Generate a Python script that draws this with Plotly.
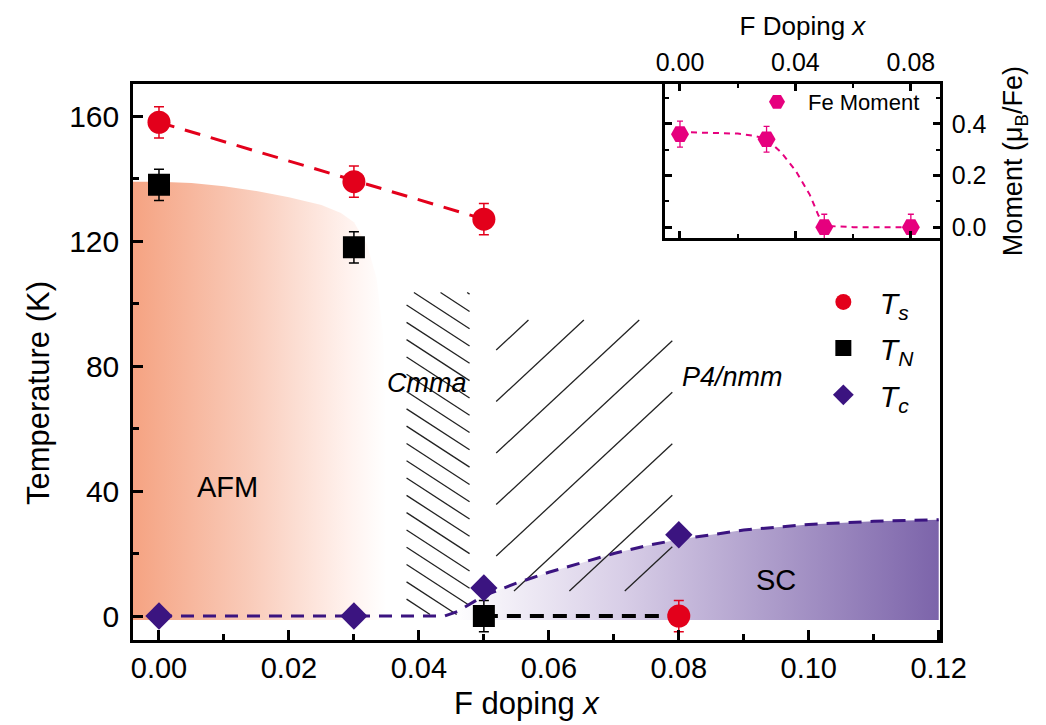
import numpy as np
import plotly.graph_objects as go

# ---------------- data ----------------
doping = [0.00, 0.03, 0.05, 0.08]
Ts = [158, 139, 127, 0]
Ts_err = [5, 5, 5, 5]
TN_doping = [0.00, 0.03, 0.05]
TN = [138, 118, 0]
TN_err = [5, 5, 5]
Tc = [0, 0, 9, 26]

# guide lines through the transitions
ts_guide_x = [0.00, 0.05]
ts_guide_T = [158, 127]
tn_zero_x = [0.05, 0.08]
tn_zero_T = [0, 0]
tc_guide_x = [0.000, 0.030, 0.044, 0.046, 0.048, 0.050, 0.055, 0.060, 0.065,
              0.070, 0.075, 0.080, 0.090, 0.100, 0.110, 0.120]
tc_guide_T = [0.0, 0.0, 0.0, 1.5, 4.0, 6.5, 10.5, 14.0, 17.0,
              20.0, 22.5, 24.5, 27.5, 29.3, 30.3, 30.8]

# AFM dome (upper boundary)
afm_x = [-0.0040, 0.000, 0.005, 0.010, 0.015, 0.020, 0.025, 0.028, 0.030,
         0.032, 0.0335, 0.0345, 0.0350, 0.0350, -0.0040]
afm_T = [139.0, 139.0, 138.6, 137.5, 136.0, 134.0, 131.5, 129.0, 126.0,
         119.0, 108.0, 90.0, 60.0, -1.3, -1.3]

# Fe ordered moment (inset)
mom_doping = [0.00, 0.03, 0.05, 0.08]
moment = [0.36, 0.34, 0.0, 0.0]
moment_err = [0.05, 0.05, 0.05, 0.05]
mom_guide_x = [0.000, 0.010, 0.020, 0.025, 0.030, 0.035, 0.040, 0.045,
               0.048, 0.050, 0.060, 0.070, 0.080]
mom_guide_y = [0.368, 0.366, 0.362, 0.355, 0.342, 0.290, 0.220, 0.125,
               0.045, 0.005, 0.0, 0.0, 0.0]

# axis tick labels
x_ticks = [0.00, 0.02, 0.04, 0.06, 0.08, 0.10, 0.12]
y_ticks = [0, 40, 80, 120, 160]
inset_x_ticks = [0.00, 0.04, 0.08]
inset_y_ticks = [0.0, 0.2, 0.4]

# ---------------- layout geometry ----------------
W, H = 1046, 725
ML, MR, MT, MB = 133, 106, 84, 85
XR = [-0.0040, 0.1202]
YR = [-7.68, 170.24]
PW, PH = W - ML - MR, H - MT - MB
SX = PW / (XR[1] - XR[0])   # px per unit doping
SY = PH / (YR[1] - YR[0])   # px per kelvin

RED = "#E3001B"
PURPLE = "#3B1480"
PINK = "#E6007E"
FONT = "Liberation Sans, Arial, sans-serif"


def px_to_paper_x(px):
    return (px - ML) / PW


def px_to_paper_y(py):
    return (H - MB - py) / PH


def hatch(x0, x1, t0, t1, anchor, slope_px, spacing_px):
    """Parallel line segments clipped to a rectangle (slope/spacing in screen px)."""
    X0, X1 = (x0 - XR[0]) * SX, (x1 - XR[0]) * SX
    Y0, Y1 = (t0 - YR[0]) * SY, (t1 - YR[0]) * SY
    ax, at = (anchor[0] - XR[0]) * SX, (anchor[1] - YR[0]) * SY
    c0 = at - slope_px * ax
    xs, ys = [], []
    for k in range(-80, 81):
        c = c0 + k * spacing_px
        if slope_px > 0:
            a, b = max(X0, (Y0 - c) / slope_px), min(X1, (Y1 - c) / slope_px)
        else:
            a, b = max(X0, (Y1 - c) / slope_px), min(X1, (Y0 - c) / slope_px)
        if b - a > 1:
            for X in (a, b):
                xs.append(XR[0] + X / SX)
                ys.append(YR[0] + (slope_px * X + c) / SY)
            xs.append(None)
            ys.append(None)
    return xs, ys


fig = go.Figure()

# AFM phase (orange fading to white)
fig.add_trace(go.Scatter(
    x=afm_x, y=afm_T, mode="lines", line=dict(width=0), fill="toself",
    fillgradient=dict(type="horizontal", colorscale=[
        [0.0, "rgb(245,163,130)"], [0.45, "rgb(249,202,184)"],
        [0.85, "rgb(255,242,238)"], [1.0, "rgb(255,255,255)"]]),
    showlegend=False, hoverinfo="skip"))

# SC dome (white to violet)
gx = np.array(tc_guide_x)
gT = np.array(tc_guide_T)
sel = gx >= 0.046
sc_x = [0.045] + list(gx[sel]) + [0.120, 0.045]
sc_T = [0.7] + list(gT[sel]) + [-1.3, -1.3]
fig.add_trace(go.Scatter(
    x=sc_x, y=sc_T, mode="lines", line=dict(width=0), fill="toself",
    fillgradient=dict(type="horizontal", colorscale=[
        [0.0, "rgba(255,255,255,1)"], [0.35, "rgb(216,206,231)"],
        [1.0, "rgb(124,100,170)"]]),
    showlegend=False, hoverinfo="skip"))

# hatched structural regions
hx, hy = hatch(0.0381, 0.0478, 0.5, 103.5, (0.0381, 99.5), -0.65, 17.3)
fig.add_trace(go.Scatter(x=hx, y=hy, mode="lines",
                         line=dict(color="#222222", width=1.3),
                         showlegend=False, hoverinfo="skip"))
hx, hy = hatch(0.0519, 0.0790, 8.0, 94.7, (0.0519, 85.1), 0.93, 51.5)
fig.add_trace(go.Scatter(x=hx, y=hy, mode="lines",
                         line=dict(color="#222222", width=1.3),
                         showlegend=False, hoverinfo="skip"))

# guide lines
fig.add_trace(go.Scatter(x=ts_guide_x, y=ts_guide_T, mode="lines",
                         line=dict(color=RED, width=3, dash="16px,11px"),
                         showlegend=False, hoverinfo="skip"))
fig.add_trace(go.Scatter(x=tn_zero_x, y=tn_zero_T, mode="lines",
                         line=dict(color="black", width=4, dash="14px,9px"),
                         showlegend=False, hoverinfo="skip"))
fig.add_trace(go.Scatter(x=tc_guide_x, y=tc_guide_T, mode="lines",
                         line=dict(color=PURPLE, width=3, dash="13px,9px"),
                         showlegend=False, hoverinfo="skip"))

# data points
fig.add_trace(go.Scatter(
    x=doping, y=Ts, mode="markers", name="<i>T</i><sub><i>s</i></sub>",
    marker=dict(symbol="circle", size=23, color=RED),
    error_y=dict(type="data", array=Ts_err, color=RED, thickness=1.5, width=5),
    legend="legend"))
fig.add_trace(go.Scatter(
    x=TN_doping, y=TN, mode="markers", name="<i>T</i><sub><i>N</i></sub>",
    marker=dict(symbol="square", size=22, color="black"),
    error_y=dict(type="data", array=TN_err, color="black", thickness=1.5, width=5),
    legend="legend2"))
fig.add_trace(go.Scatter(
    x=doping, y=Tc, mode="markers", name="<i>T</i><sub><i>c</i></sub>",
    marker=dict(symbol="diamond", size=21, color=PURPLE),
    legend="legend3"))

# inset: Fe moment
fig.add_trace(go.Scatter(x=mom_guide_x, y=mom_guide_y, mode="lines",
                         line=dict(color=PINK, width=2, dash="6px,5px"),
                         xaxis="x2", yaxis="y2", showlegend=False, hoverinfo="skip"))
fig.add_trace(go.Scatter(
    x=mom_doping, y=moment, mode="markers", name="Fe Moment",
    marker=dict(symbol="hexagon2", size=18, color=PINK),
    error_y=dict(type="data", array=moment_err, color=PINK, thickness=1.3, width=3),
    xaxis="x2", yaxis="y2", legend="legend4"))

# phase labels
labels = [
    ("AFM", 0.0106, 41.3, False, 29),
    ("Cmma", 0.0412, 74.6, True, 27),
    ("P4/nmm", 0.0882, 76.5, True, 27),
    ("SC", 0.0950, 11.5, False, 29),
]
for txt, lx, ly, ital, fs in labels:
    fig.add_annotation(x=lx, y=ly, xref="x", yref="y",
                       text=f"<i>{txt}</i>" if ital else txt,
                       showarrow=False, font=dict(size=fs, color="black", family=FONT))

# main axis titles
fig.add_annotation(x=px_to_paper_x(527), y=px_to_paper_y(703), xref="paper", yref="paper",
                   text="F doping <i>x</i>", showarrow=False,
                   xanchor="center", yanchor="middle",
                   font=dict(size=31, color="black", family=FONT))
fig.add_annotation(x=px_to_paper_x(38), y=px_to_paper_y(393), xref="paper", yref="paper",
                   text="Temperature (K)", textangle=-90, showarrow=False,
                   xanchor="center", yanchor="middle",
                   font=dict(size=31, color="black", family=FONT))

axis_common = dict(showline=True, linecolor="black", linewidth=2.5,
                   ticks="inside", tickcolor="black", tickwidth=2.5,
                   showgrid=False, zeroline=False, automargin=False)

legend_common = dict(bgcolor="rgba(0,0,0,0)", borderwidth=0,
                     xanchor="left", yanchor="middle", itemwidth=63,
                     font=dict(size=30, family=FONT, color="black"))

fig.update_layout(
    width=W, height=H,
    margin=dict(l=ML, r=MR, t=MT, b=MB, autoexpand=False),
    paper_bgcolor="white", plot_bgcolor="white",
    font=dict(family=FONT, color="black"),
    xaxis=dict(range=XR, domain=[0, 1], anchor="y", mirror=True,
               tickvals=x_ticks, ticktext=[f"{v:.2f}" for v in x_ticks],
               ticklen=10, ticklabelstandoff=0,
               minor=dict(dtick=0.01, tick0=0, ticks="inside", ticklen=6,
                          tickwidth=2.5, tickcolor="black"),
               tickfont=dict(size=29),
               **axis_common),
    yaxis=dict(range=YR, domain=[0, 1], anchor="x", mirror=True,
               tickvals=y_ticks, ticktext=[str(v) for v in y_ticks],
               ticklen=10, ticklabelstandoff=5,
               minor=dict(dtick=20, tick0=0, ticks="inside", ticklen=6,
                          tickwidth=2.5, tickcolor="black"),
               tickfont=dict(size=30),
               **axis_common),
    xaxis2=dict(range=[-0.0052, 0.0901], domain=[0.6592, 1.0], anchor="y2",
                side="top", mirror="allticks",
                tickvals=inset_x_ticks, ticktext=[f"{v:.2f}" for v in inset_x_ticks],
                ticklen=7, ticklabelstandoff=0,
                minor=dict(dtick=0.02, tick0=0, ticks="inside", ticklen=4,
                           tickwidth=2, tickcolor="black"),
                tickfont=dict(size=25),
                title=dict(text="F Doping <i>x</i>", font=dict(size=26), standoff=6),
                **axis_common),
    yaxis2=dict(range=[-0.042, 0.554], domain=[0.723, 1.0], anchor="x2",
                side="right", mirror="allticks",
                tickvals=inset_y_ticks, ticktext=[f"{v:.1f}" for v in inset_y_ticks],
                ticklen=7, ticklabelstandoff=4,
                minor=dict(dtick=0.1, tick0=0, ticks="inside", ticklen=4,
                           tickwidth=2, tickcolor="black"),
                tickfont=dict(size=25),
                title=dict(text="Moment (μ<sub>B</sub>/Fe)", font=dict(size=27), standoff=18),
                **axis_common),
    legend=dict(x=0.835, y=0.608, **legend_common),
    legend2=dict(x=0.835, y=0.525, **legend_common),
    legend3=dict(x=0.835, y=0.441, **legend_common),
    legend4=dict(x=0.7596, y=0.9676, bgcolor="rgba(0,0,0,0)", borderwidth=0,
                 xanchor="left", yanchor="middle", itemwidth=52,
                 font=dict(size=22, family=FONT, color="black")),
)

fig.write_html("out.html")
